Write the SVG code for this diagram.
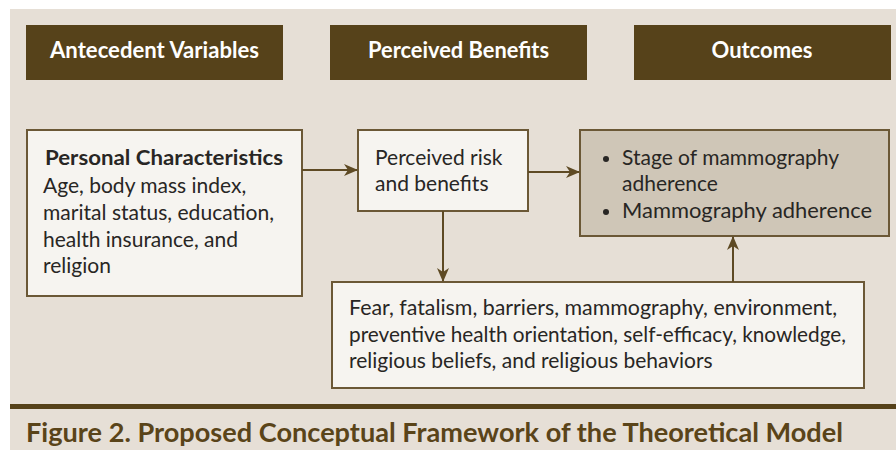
<svg xmlns="http://www.w3.org/2000/svg" width="896" height="450" viewBox="0 0 896 450">
<defs>
<style>
.hdr{fill:#56421a}
.hdrt{fill:#ffffff;font-family:Lato,"Open Sans",sans-serif;font-weight:bold;font-size:22px;text-anchor:middle}
.box{fill:#f6f4f0;stroke:#6b5836;stroke-width:2}
.obox{fill:#cfc6b7;stroke:#6b5836;stroke-width:2}
.t{fill:#282624;font-family:Lato,"Open Sans",sans-serif;font-size:21px}
.tb{fill:#282624;font-family:Lato,"Open Sans",sans-serif;font-size:21.5px;font-weight:bold}
.con{stroke:#5e4a24;stroke-width:2;fill:none}
.cap{fill:#5a4419;font-family:Lato,"Open Sans",sans-serif;font-size:27px;font-weight:bold}
</style>
<marker id="ah" viewBox="0 0 14 12" refX="13" refY="6" markerWidth="14" markerHeight="12" markerUnits="userSpaceOnUse" orient="auto">
<path d="M0,0 L14,6 L0,12 L4,6 Z" fill="#5e4a24"/>
</marker>
</defs>
<rect x="0" y="0" width="896" height="450" fill="#ffffff"/>
<rect x="10" y="9" width="886" height="441" fill="#e6dfd6"/>

<g id="hdr-antecedent">
<rect class="hdr" x="26" y="25" width="257" height="55"/>
<text class="hdrt" x="154.5" y="58" textLength="209" lengthAdjust="spacingAndGlyphs">Antecedent Variables</text>
</g>
<g id="hdr-benefits">
<rect class="hdr" x="330" y="25" width="257" height="55"/>
<text class="hdrt" x="458.5" y="58" textLength="181" lengthAdjust="spacingAndGlyphs">Perceived Benefits</text>
</g>
<g id="hdr-outcomes">
<rect class="hdr" x="634" y="25" width="257" height="55"/>
<text class="hdrt" x="762" y="58" textLength="101" lengthAdjust="spacingAndGlyphs">Outcomes</text>
</g>

<g id="personal">
<rect class="box" x="27" y="130" width="275" height="166"/>
<text class="tb" x="45" y="165" textLength="238" lengthAdjust="spacingAndGlyphs">Personal Characteristics</text>
<text class="t" x="43" y="193">Age, body mass index,</text>
<text class="t" x="43" y="220" textLength="231" lengthAdjust="spacingAndGlyphs">marital status, education,</text>
<text class="t" x="43" y="247">health insurance, and</text>
<text class="t" x="43" y="273">religion</text>
</g>

<g id="perceived">
<rect class="box" x="358" y="130" width="170" height="81"/>
<text class="t" x="375" y="165">Perceived risk</text>
<text class="t" x="375" y="191">and benefits</text>
</g>

<g id="outcomes">
<rect class="obox" x="580" y="130" width="309" height="106"/>
<circle cx="606" cy="159" r="3" fill="#282624"/>
<text class="t" x="622" y="165">Stage of mammography</text>
<text class="t" x="622" y="191">adherence</text>
<circle cx="606" cy="212" r="3" fill="#282624"/>
<text class="t" x="622" y="218" textLength="250" lengthAdjust="spacingAndGlyphs">Mammography adherence</text>
</g>

<g id="factors">
<rect class="box" x="332" y="282" width="532" height="106"/>
<text class="t" x="349" y="315" textLength="488" lengthAdjust="spacingAndGlyphs">Fear, fatalism, barriers, mammography, environment,</text>
<text class="t" x="349" y="342" textLength="497" lengthAdjust="spacingAndGlyphs">preventive health orientation, self-efficacy, knowledge,</text>
<text class="t" x="349" y="368">religious beliefs, and religious behaviors</text>
</g>

<g id="connectors">
<line class="con" x1="302" y1="170" x2="357" y2="170" marker-end="url(#ah)"/>
<line class="con" x1="528" y1="172" x2="579" y2="172" marker-end="url(#ah)"/>
<line class="con" x1="443" y1="211" x2="443" y2="281" marker-end="url(#ah)"/>
<line class="con" x1="733" y1="282" x2="733" y2="237" marker-end="url(#ah)"/>
</g>

<rect x="10" y="404" width="886" height="5" fill="#56421a"/>
<text class="cap" x="26" y="442" textLength="817" lengthAdjust="spacingAndGlyphs">Figure 2. Proposed Conceptual Framework of the Theoretical Model</text>
</svg>
